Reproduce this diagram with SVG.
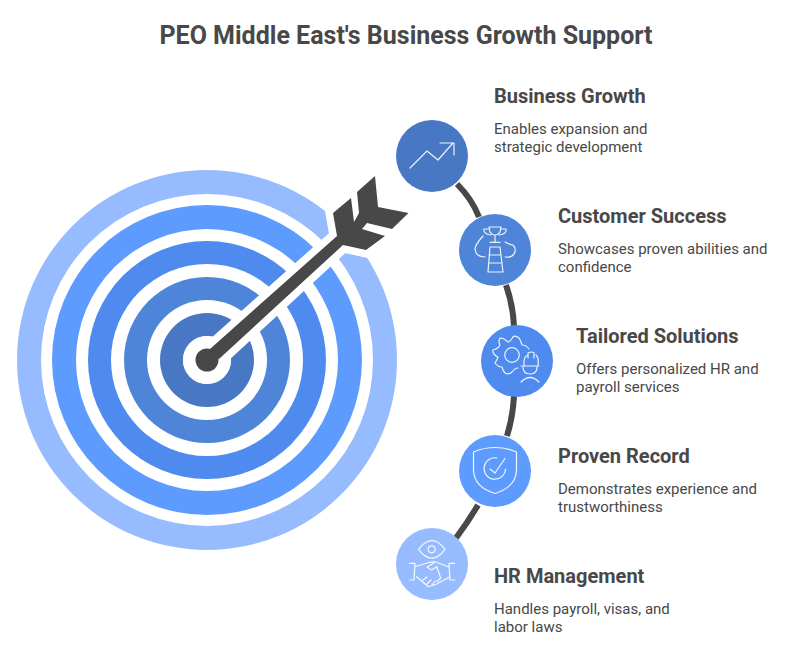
<svg xmlns="http://www.w3.org/2000/svg" width="794" height="653" viewBox="0 0 794 653">
<style>
text{font-family:Roboto,"Liberation Sans",sans-serif}
.t{font-size:25px;font-weight:700;fill:#484848}
.h{font-size:20px;font-weight:700;fill:#484848}
.d{font-size:15px;fill:#484848}
.i{fill:none;stroke:#fff;stroke-width:1.2;stroke-linecap:round;stroke-linejoin:round;opacity:.9}
.c{fill:none;stroke:#484848;stroke-width:6}
</style>
<defs>
<path id="arrowShape" d="M375 176L378 207L408.500 213L392 229L367 223L362 229L385 236L366 250L343 245L219 359L210 349L337 236L333 213L351 198L354 222L359 213L357 192Z"/>
</defs>
<rect width="794" height="653" fill="#fff"/>
<text class="t" x="406" y="44" text-anchor="middle">PEO Middle East's Business Growth Support</text>
<g id="target">
<circle cx="207" cy="360" r="190" fill="#97bbff"/>
<circle cx="207" cy="360" r="166" fill="#fff"/>
<circle cx="207" cy="360" r="155" fill="#5e9bfe"/>
<circle cx="207" cy="360" r="131" fill="#fff"/>
<circle cx="207" cy="360" r="119" fill="#4f8bee"/>
<circle cx="207" cy="360" r="96" fill="#fff"/>
<circle cx="207" cy="360" r="83" fill="#4f85d8"/>
<circle cx="207" cy="360" r="60" fill="#fff"/>
<circle cx="207" cy="360" r="47" fill="#4877c4"/>
<circle cx="207" cy="360" r="24" fill="#fff"/>
</g>
<g id="arrow">
<use href="#arrowShape" fill="#fff" stroke="#fff" stroke-width="15" stroke-linejoin="miter" stroke-miterlimit="3"/>
<circle cx="207" cy="360" r="24" fill="#fff"/>
<use href="#arrowShape" fill="#484848"/>
<circle cx="207" cy="360" r="11.500" fill="#484848"/>
</g>
<g id="connectors">
<path class="c" d="M457 184Q472 199 479 217"/>
<path class="c" d="M506 285Q513 305 514 326"/>
<path class="c" d="M514 396Q513 416 507 436"/>
<path class="c" d="M478 505Q468 522 456 538"/>
</g>
<g id="node-business-growth">
<circle cx="432" cy="156" r="36" fill="#4877c4"/>
<path class="i" d="M410 168L427 151L438 160L453 143M440 143H454V155"/>
<text class="h" x="494" y="103">Business Growth</text>
<text class="d" x="494" y="134">Enables expansion and</text>
<text class="d" x="494" y="152">strategic development</text>
</g>
<g id="node-customer-success">
<circle cx="495" cy="250" r="36" fill="#4f85d8"/>
<path class="i" d="M489 227H501L500 232Q498 235 495 235Q492 235 490 232ZM489 229H484Q483 234 491 235M501 229H506Q507 234 499 235M495 235V242M490 242.300H500M483 236Q475 245 475 249Q476 257 485 257M505 242Q510 245 513 245Q516 248 515 252Q513 258 505 257M490 247L488 272M500 247L503 272M490 247H500M489 255H501M489 263H502M488 272H503"/>
<text class="h" x="558" y="223">Customer Success</text>
<text class="d" x="558" y="254">Showcases proven abilities and</text>
<text class="d" x="558" y="272">confidence</text>
</g>
<g id="node-tailored-solutions">
<circle cx="517" cy="361" r="36" fill="#4f8bee"/>
<circle cx="512" cy="355" r="7.300" class="i"/>
<path class="i" d="M529 349Q526 345 522 345Q521 341 519 338Q515 335 513 337Q510 342 508 342Q504 338 500 338Q498 341 500 345Q498 349 493 350Q492 354 498 357Q497 360 495 363Q498 367 502 367Q503 371 505 373Q509 375 512 372Q515 368 518 368"/>
<path class="i" d="M524 365Q523 357 528 355M536 355Q539 358 538 365M528 358V353Q532 351 534 353V358M521 366H539M523 367Q523 374 530 374Q537 374 537 367M521 382Q530 373 539 382"/>
<text class="h" x="576" y="343">Tailored Solutions</text>
<text class="d" x="576" y="374">Offers personalized HR and</text>
<text class="d" x="576" y="392">payroll services</text>
</g>
<g id="node-proven-record">
<circle cx="495" cy="471" r="36" fill="#5e9bfe"/>
<path class="i" d="M473.500 452Q495 443 516.500 452V470Q516 487 495 493.500Q474 487 473.500 470ZM505.500 469A10.700 10.700 0 1 1 497 458M490 469L495 473L505 458.500"/>
<text class="h" x="558" y="463">Proven Record</text>
<text class="d" x="558" y="494">Demonstrates experience and</text>
<text class="d" x="558" y="512">trustworthiness</text>
</g>
<g id="node-hr-management">
<circle cx="432" cy="564" r="36" fill="#97bbff"/>
<path class="i" d="M418.500 549.300Q432 532 445 549.300Q432 567 418.500 549.300ZM409.500 563.300H415L414 580H409.500M454.500 563.300H449L450 580H455M415 566.700L428 562.700L435 561.700L448.500 566.700M416.700 576.700L428.300 586.700L436.700 584L449.500 577M434 563L427 567L431.700 570L436.700 566.700L440.700 578L436.700 581.700M423 580L427 577M427 584L431 580M432 585L435 581"/>
<circle cx="431.700" cy="549.300" r="3.500" class="i"/>
<text class="h" x="494" y="583">HR Management</text>
<text class="d" x="494" y="614">Handles payroll, visas, and</text>
<text class="d" x="494" y="632">labor laws</text>
</g>
</svg>
